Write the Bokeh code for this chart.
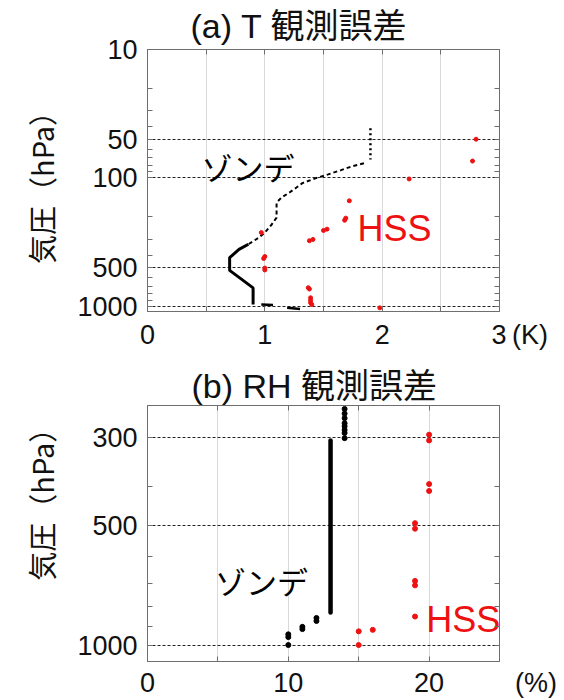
from bokeh.plotting import figure
from bokeh.layouts import column
from bokeh.models import Range1d, FixedTicker, PrintfTickFormatter, LinearAxis, LogAxis
from bokeh.core.properties import value
from bokeh.embed import file_html
from bokeh.resources import INLINE

LATIN = "Liberation Sans"
CJK = "Noto Sans CJK JP"
FRAME = "#6e6e6e"
RED = "#ee1111"

# ---------------- (a) temperature observation error ----------------
# radiosonde profile (K vs hPa), split by how densely the levels are drawn
t_sonde_top_err = [1.90, 1.90]
t_sonde_top_p = [41, 72]
t_sonde_mid_err = [1.845, 1.74, 1.65, 1.54, 1.43, 1.32, 1.27, 1.21, 1.14, 1.10, 1.10, 1.10, 1.06, 1.00, 0.95, 0.86]
t_sonde_mid_p = [77, 81.5, 87, 94, 101, 110, 119, 130, 143, 156, 176, 204, 230, 267, 292, 329]
t_sonde_low_err = [0.86, 0.78, 0.70, 0.70, 0.90, 0.90]
t_sonde_low_p = [329, 361, 419, 526, 720, 970]
t_sonde_sfc_err = [[0.97, 1.07], [1.19, 1.30]]
t_sonde_sfc_p = [[972, 980], [1028, 1050]]

# HSS temperature error
t_hss_err = [2.80, 2.77, 2.23, 1.72, 1.68, 1.69, 1.50, 1.53, 1.38, 1.41, 0.97,
             1.00, 0.99, 1.00, 1.00, 1.37, 1.38, 1.39, 1.39, 1.39, 1.40, 1.98]
t_hss_p = [50, 74, 102, 151, 214, 206, 257, 251, 309, 302, 267,
           410, 425, 505, 522, 718, 735, 860, 900, 940, 970, 1030]

t_x_major = [0, 1, 2, 3]
t_x_minor = [0.5, 1.5, 2.5]
t_x_labels = ["0", "1", "2", "3"]
t_unit = "(K)"
t_y_ticks = [10, 50, 100, 500, 1000]
t_y_minor = [20, 30, 40, 60, 70, 80, 90, 200, 300, 400, 600, 700, 800, 900]

# ---------------- (b) relative humidity observation error ----------------
rh_sonde_dot_err = [14, 14, 14, 14, 14, 14, 14, 14, 12, 12, 11, 11, 10, 10, 10]
rh_sonde_dot_p = [255, 262, 269, 277, 282, 288, 293, 302, 855, 870, 900, 912, 940, 955, 1000]
rh_sonde_col_err = [13, 13]
rh_sonde_col_p = [306, 828]

rh_hss_err = [20, 20, 20, 20, 19, 19, 19, 19, 19, 15, 16, 15]
rh_hss_p = [296, 306, 394, 410, 494, 510, 690, 708, 848, 924, 916, 1000]

rh_x_major = [0, 10, 20, 25]
rh_x_minor = [5, 15]
rh_x_labels = ["0", "10", "20", ""]
rh_unit = "(%)"
rh_y_ticks = [300, 500, 1000]
rh_y_minor = [400, 600, 700, 800, 900]

Y_TITLE = "気圧（hPa）"

# non-collapsing spaces used to shift texts away from their default anchors
EM, EN, THIN = "\u2003", "\u2002", "\u2009"


def style_axis(ax, show_labels=True):
    ax.axis_line_color = FRAME
    ax.major_tick_line_color = FRAME
    ax.minor_tick_line_color = FRAME
    ax.major_tick_in = 5
    ax.major_tick_out = 0
    ax.minor_tick_in = 5
    ax.minor_tick_out = 0
    ax.major_label_text_font = LATIN
    ax.major_label_text_color = "#111111"
    ax.major_label_text_font_size = "27px"
    if not show_labels:
        ax.major_label_standoff = 0


def make_panel(title, title_offset, title_standoff, height, borders, x_end, x_major, x_minor,
               x_text, x_standoff, y_start, y_end, y_ticks, y_minor, y_title):
    left, right, top, bottom = borders
    p = figure(width=564, height=height, x_range=Range1d(0, x_end),
               y_range=Range1d(y_start, y_end), y_axis_type="log",
               output_backend="svg", toolbar_location=None,
               min_border_left=left, min_border_right=right,
               min_border_top=top, min_border_bottom=bottom)
    p.outline_line_color = FRAME
    p.background_fill_color = "white"
    p.border_fill_color = "white"

    p.title.text = title
    p.title.text_font = f"{LATIN}, {CJK}"
    p.title.text_font_size = "34px"
    p.title.text_font_style = "normal"
    p.title.text_color = "#111111"
    p.title.align = "left"
    p.title.offset = title_offset
    p.title.standoff = title_standoff

    xt = FixedTicker(ticks=x_major, minor_ticks=x_minor)
    yt = FixedTicker(ticks=y_ticks, minor_ticks=y_minor)

    p.xaxis.ticker = xt
    p.xaxis.major_label_overrides = dict(zip(x_major, x_text))
    p.yaxis.ticker = yt
    p.yaxis.formatter = PrintfTickFormatter(format="%d")
    p.yaxis.axis_label = y_title
    p.yaxis.axis_label_text_font = CJK
    p.yaxis.axis_label_text_font_size = "29px"
    p.yaxis.axis_label_text_font_style = "normal"
    p.yaxis.axis_label_text_color = "#111111"
    p.yaxis.axis_label_standoff = 12
    style_axis(p.xaxis[0])
    style_axis(p.yaxis[0])
    p.xaxis.major_label_standoff = x_standoff
    p.yaxis.major_label_standoff = 10

    # mirrored tick marks on the top and right frame edges (no labels)
    top_ax = LinearAxis(ticker=FixedTicker(ticks=[], minor_ticks=sorted(x_major + x_minor)))
    style_axis(top_ax, show_labels=False)
    p.add_layout(top_ax, "above")
    right_ax = LogAxis(ticker=FixedTicker(ticks=[], minor_ticks=sorted(y_ticks + y_minor)))
    style_axis(right_ax, show_labels=False)
    p.add_layout(right_ax, "right")

    p.xgrid.ticker = FixedTicker(ticks=sorted(x_major + x_minor), minor_ticks=[])
    p.xgrid.grid_line_color = "#d9d9d9"
    p.xgrid.grid_line_width = 1
    p.ygrid.ticker = FixedTicker(ticks=y_ticks, minor_ticks=[])
    p.ygrid.grid_line_color = "#222222"
    p.ygrid.grid_line_dash = "3 2"
    p.ygrid.grid_line_width = 1
    return p


# panel (a): unit sits just right of the "3"
a_text = t_x_labels[:-1] + [EM + EN + t_x_labels[-1] + THIN + t_unit]
pa = make_panel("(a) T 観測誤差", 43, 9, 360, (145, 64, 49, 49), 3, t_x_major, t_x_minor,
                a_text, 8, 1100, 10, t_y_ticks, t_y_minor, Y_TITLE)
pa.line(t_sonde_top_err, t_sonde_top_p, line_color="black", line_width=2.5, line_dash="2 3")
pa.line(t_sonde_mid_err, t_sonde_mid_p, line_color="black", line_width=2, line_dash="4 3")
pa.line(t_sonde_low_err, t_sonde_low_p, line_color="black", line_width=3)
pa.multi_line(t_sonde_sfc_err, t_sonde_sfc_p, line_color="black", line_width=2.5)
pa.scatter(t_hss_err, t_hss_p, size=4, color=RED, line_color=RED)
pa.text(x=[0.46], y=[82], text=["ゾンデ"], text_font=value(CJK), text_font_size="31px",
        text_baseline="middle", text_align="left", text_color="black")
pa.text(x=[1.79], y=[250], text=["HSS"], text_font=value(LATIN), text_font_size="36px",
        text_baseline="middle", text_align="left", text_color=RED)

# panel (b): unit sits right of the frame edge; axis title raised above the frame centre
b_text = rh_x_labels[:-1] + [EM + EM + EN + THIN + rh_unit]
pb = make_panel("(b) RH 観測誤差", 44, 2, 340, (147, 65, 45, 38), 25, rh_x_major, rh_x_minor,
                b_text, 6, 1100, 250, rh_y_ticks, rh_y_minor, EM + EM + EN + Y_TITLE)
pb.line(rh_sonde_col_err, rh_sonde_col_p, line_color="black", line_width=4.5, line_cap="round")
pb.scatter(rh_sonde_dot_err, rh_sonde_dot_p, size=5, color="black")
pb.scatter(rh_hss_err, rh_hss_p, size=5, color=RED, line_color=RED)
pb.text(x=[4.8], y=[689], text=["ゾンデ"], text_font=value(CJK), text_font_size="31px",
        text_baseline="middle", text_align="left", text_color="black")
pb.text(x=[19.8], y=[862], text=["HSS"], text_font=value(LATIN), text_font_size="36px",
        text_baseline="middle", text_align="left", text_color=RED)

layout = column(pa, pb, spacing=0)
open("out.html", "w").write(file_html(layout, INLINE))
